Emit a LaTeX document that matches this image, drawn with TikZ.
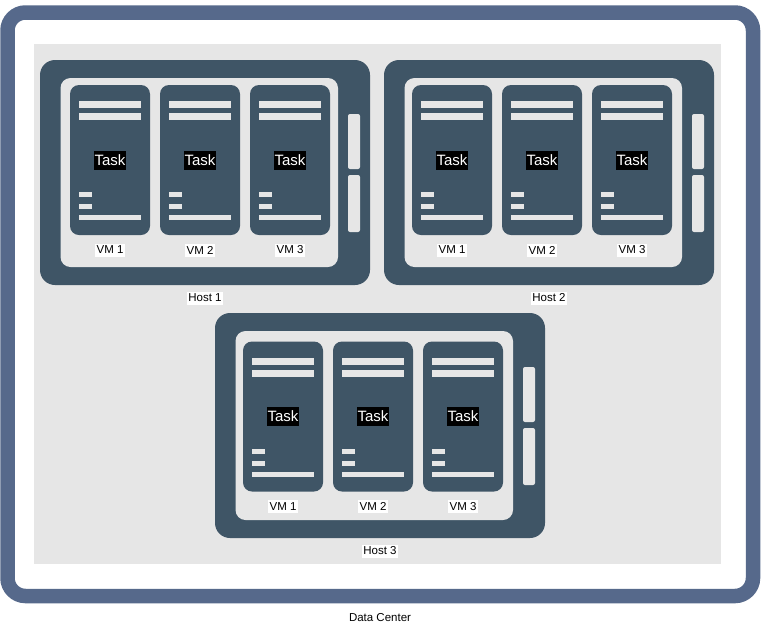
\documentclass[tikz,border=0pt]{standalone}
\usepackage{fontspec}
\setmainfont{Liberation Sans}
\definecolor{frameblue}{HTML}{56698B}
\definecolor{hostdark}{HTML}{3F5566}
\definecolor{lightg}{HTML}{E6E6E6}
\tikzset{
  hostbox/.style={fill=hostdark, draw=none, rounded corners=15pt},
  innerbox/.style={fill=lightg, draw=none, rounded corners=10pt},
  vmbox/.style={fill=hostdark, draw=none, rounded corners=9pt},
  bar/.style={fill=lightg, draw=none},
  sidebar/.style={fill=lightg, draw=none, rounded corners=2pt},
  tasklabel/.style={fill=black, text=white, font=\fontsize{15}{18}\selectfont, inner xsep=0.5pt, inner ysep=0pt, minimum height=19pt},
  smalllabel/.style={fill=white, text=black, font=\fontsize{11.5}{13}\selectfont, inner xsep=1.5pt, inner ysep=0pt, minimum height=13pt},
}
% #1 x, #2 y (host top-left), #3 vm dx, #4 vm dy, #5 host number
\newcommand{\VMunit}[4]{% #1 x, #2 y of VM top-left, #3 vm number, #4 name prefix
  \fill[vmbox] (#1,#2) rectangle ++(80,150);
  \fill[bar] (#1+9,#2+16) rectangle (#1+71,#2+23);
  \fill[bar] (#1+9,#2+28) rectangle (#1+71,#2+35);
  \fill[bar] (#1+9,#2+107) rectangle (#1+22,#2+112);
  \fill[bar] (#1+9,#2+119) rectangle (#1+22,#2+124);
  \fill[bar] (#1+9,#2+130) rectangle (#1+71,#2+135);
  \node[tasklabel] (#4-task#3) at (#1+40,#2+75) {Task};
  \node[smalllabel] (#4-vm#3) at (#1+40,#2+165) {VM #3};
}
\newcommand{\HostUnit}[5]{%
  \fill[hostbox] (#1,#2) rectangle ++(330,225);
  \fill[innerbox] (#1+20.5,#2+18) rectangle (#1+298,#2+207);
  \VMunit{#1+#3}{#2+#4}{1}{h#5}
  \VMunit{#1+#3+90}{#2+#4}{2}{h#5}
  \VMunit{#1+#3+180}{#2+#4}{3}{h#5}
  \fill[sidebar] (#1+308,#2+54) rectangle (#1+320,#2+109);
  \fill[sidebar] (#1+308,#2+115) rectangle (#1+320,#2+172);
  \node[smalllabel] (host#5) at (#1+165,#2+238) {Host #5};
}
\begin{document}
\begin{tikzpicture}[x=1pt,y=-1pt]
\useasboundingbox (0,0) rectangle (770,625);
\fill[white] (0,0) rectangle (770,625);
% data center frame
\draw[frameblue, line width=14.5pt, fill=white, rounded corners=18pt] (7.5,12.5) rectangle (753,596);
\fill[lightg] (34,44) rectangle (720.5,563.5);
\node[smalllabel] (dc) at (380,618) {Data Center};
\HostUnit{40}{60}{30}{25}{1}
\HostUnit{384}{60}{28}{25}{2}
\HostUnit{215}{313}{28}{28.5}{3}
\end{tikzpicture}
\end{document}
